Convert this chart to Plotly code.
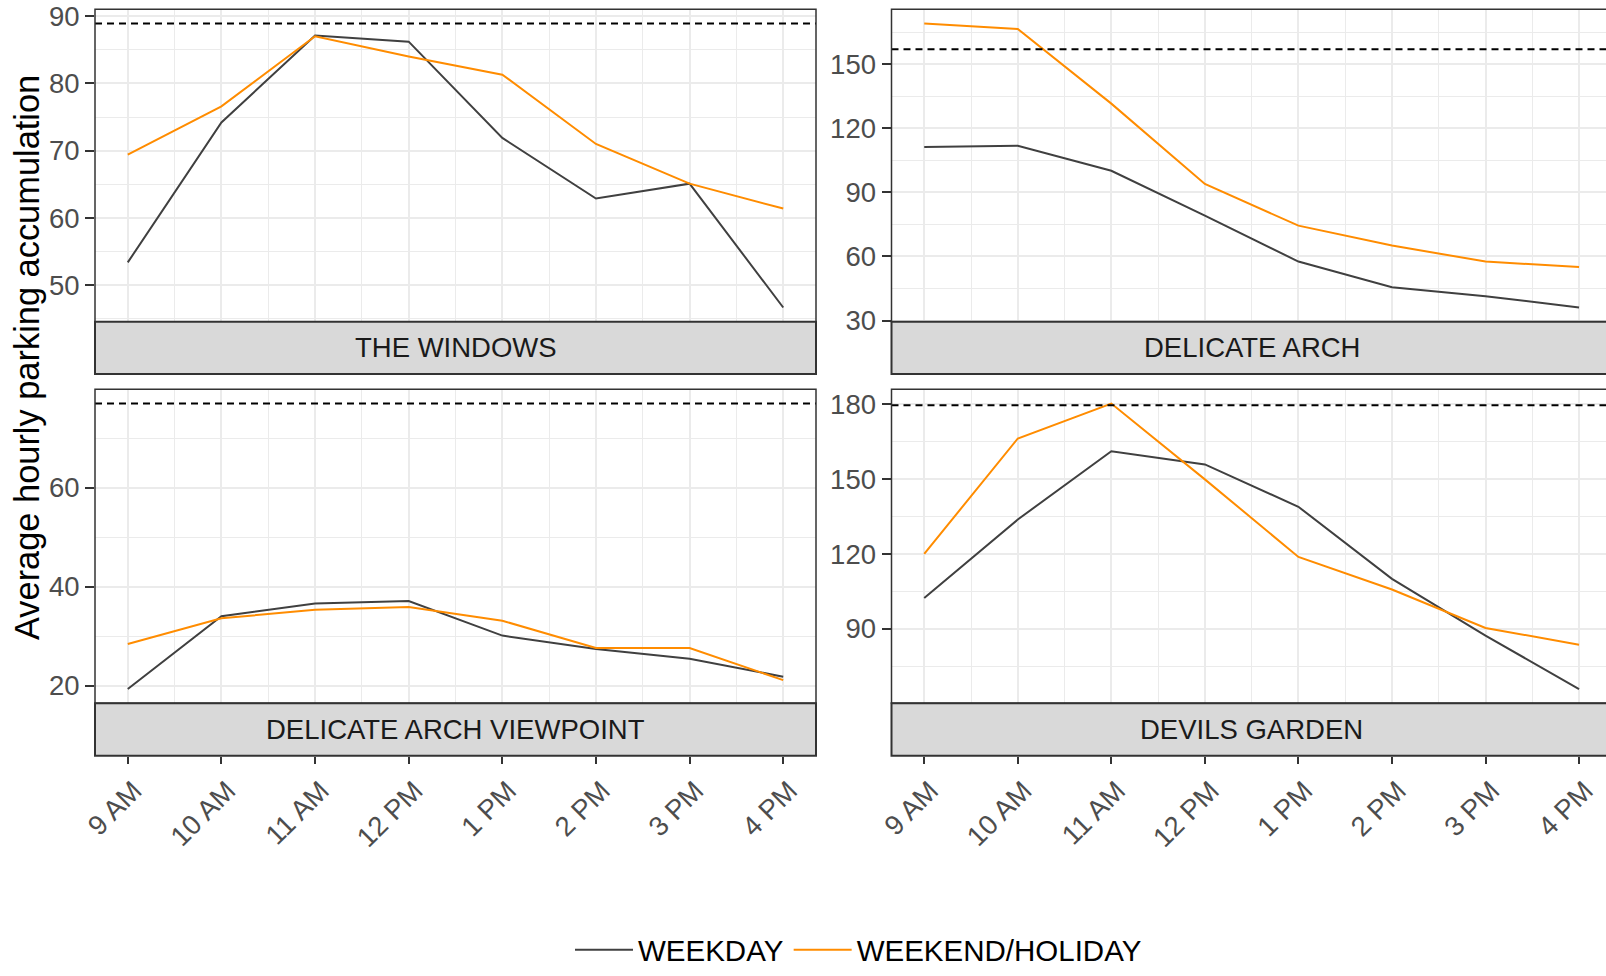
import plotly.graph_objects as go

# ---------------- data ----------------
hours = ["9 AM", "10 AM", "11 AM", "12 PM", "1 PM", "2 PM", "3 PM", "4 PM"]
sites = ["THE WINDOWS", "DELICATE ARCH", "DELICATE ARCH VIEWPOINT", "DEVILS GARDEN"]
series_names = ["WEEKDAY", "WEEKEND/HOLIDAY"]

windows_weekday = [53.4, 74.2, 87.1, 86.2, 71.9, 62.9, 65.1, 46.7]
windows_weekend = [69.4, 76.6, 87.0, 84.0, 81.3, 71.0, 65.1, 61.4]
arch_weekday = [111.2, 111.8, 100.1, 79.1, 57.6, 45.6, 41.4, 36.1]
arch_weekend = [169.0, 166.4, 131.5, 93.9, 74.4, 65.1, 57.6, 55.0]
viewpoint_weekday = [19.3, 34.0, 36.6, 37.1, 30.1, 27.4, 25.4, 21.8]
viewpoint_weekend = [28.4, 33.6, 35.3, 35.9, 33.1, 27.6, 27.6, 21.1]
devils_weekday = [102.3, 133.8, 161.2, 155.9, 138.9, 110.0, 87.2, 65.8]
devils_weekend = [120.0, 166.3, 180.3, 149.9, 118.8, 105.7, 90.3, 83.6]
capacity = [88.9, 157.0, 77.0, 179.6]
y_steps = [10, 30, 20, 30]

weekday = [windows_weekday, arch_weekday, viewpoint_weekday, devils_weekday]
weekend = [windows_weekend, arch_weekend, viewpoint_weekend, devils_weekend]

# ---------------- style ----------------
W, H = 1606, 976
FONT = "Liberation Sans, Arial, sans-serif"
GRID = "#EBEBEB"
BORDER = "#333333"
TICKTXT = "#4D4D4D"
COL_WD = "#404040"
COL_WE = "#FF8C00"
FS = 27.5


def px_x(v):
    return v / W


def px_y(v):
    return 1 - v / H


left_dom = [px_x(95), px_x(816)]
right_dom = [px_x(891.5), 1.0]
top_dom = [px_y(321.7), px_y(9.3)]
bot_dom = [px_y(703.3), px_y(389.3)]
top_strip = [px_y(374), px_y(321.7)]
bot_strip = [px_y(755.7), px_y(703.3)]

xi = list(range(len(hours)))
x_left_range = [-0.35, len(hours) - 1 + 0.35]
# right column is cut at the image edge
unit_right = (1611.8 - 891.5) / (len(hours) - 1 + 0.7)
x_right_range = [-0.35, len(hours) - 1 + 0.35 - (1611.8 - W) / unit_right]

panels = [
    dict(xd=left_dom, yd=top_dom, sd=top_strip, xr=x_left_range, bottom=False),
    dict(xd=right_dom, yd=top_dom, sd=top_strip, xr=x_right_range, bottom=False),
    dict(xd=left_dom, yd=bot_dom, sd=bot_strip, xr=x_left_range, bottom=True),
    dict(xd=right_dom, yd=bot_dom, sd=bot_strip, xr=x_right_range, bottom=True),
]

fig = go.Figure()
shapes = []
annotations = []
layout_axes = {}

for i, p in enumerate(panels):
    n = i + 1
    xa = "x" if n == 1 else f"x{n}"
    ya = "y" if n == 1 else f"y{n}"
    # traces
    for vals, name, col in [(weekday[i], series_names[0], COL_WD), (weekend[i], series_names[1], COL_WE)]:
        fig.add_trace(go.Scatter(
            x=xi, y=vals, mode="lines", name=name, legendgroup=name,
            showlegend=(i == 0), line=dict(color=col, width=2),
            xaxis=xa, yaxis=ya, hoverinfo="skip"))
    # y range (ggplot-style 5% expansion incl. capacity line)
    allv = weekday[i] + weekend[i] + [capacity[i]]
    lo, hi = min(allv), max(allv)
    pad = 0.05 * (hi - lo)
    yr = [lo - pad, hi + pad]

    xcfg = dict(
        domain=p["xd"], range=p["xr"], tickmode="array", tickvals=xi, ticktext=hours,
        showgrid=True, gridcolor=GRID, gridwidth=1.8, zeroline=False, showline=False,
        minor=dict(tickmode="linear", tick0=0, dtick=0.5, showgrid=True,
                   gridcolor=GRID, gridwidth=0.9, ticks=""),
        fixedrange=True, automargin=False,
    )
    if p["bottom"]:
        xcfg.update(anchor="free", position=p["sd"][0], ticks="outside", ticklen=7,
                    tickwidth=1.5, tickcolor=BORDER, tickangle=-45, ticklabelshift=6,
                    tickfont=dict(family=FONT, size=FS, color=TICKTXT))
    else:
        xcfg.update(anchor=ya, showticklabels=False, ticks="")
    ycfg = dict(
        domain=p["yd"], range=yr, anchor=xa, tickmode="linear", tick0=0, dtick=y_steps[i],
        ticks="outside", ticklen=9, tickwidth=1.5, tickcolor=BORDER,
        tickfont=dict(family=FONT, size=FS, color=TICKTXT),
        showgrid=True, gridcolor=GRID, gridwidth=1.8, zeroline=False, showline=False,
        minor=dict(tickmode="linear", tick0=0, dtick=y_steps[i] / 2, showgrid=True,
                   gridcolor=GRID, gridwidth=0.9, ticks=""),
        fixedrange=True, automargin=False,
    )
    layout_axes["xaxis" if n == 1 else f"xaxis{n}"] = xcfg
    layout_axes["yaxis" if n == 1 else f"yaxis{n}"] = ycfg

    x1 = 1 if not (i % 2) else 1.05
    # capacity dashed line
    shapes.append(dict(type="line", xref=f"{xa} domain", yref=ya, x0=0, x1=1,
                       y0=capacity[i], y1=capacity[i],
                       line=dict(color="black", width=2, dash="7px,5px"), layer="above"))
    # panel border
    shapes.append(dict(type="rect", xref=f"{xa} domain", yref=f"{ya} domain",
                       x0=0, x1=x1, y0=0, y1=1,
                       line=dict(color=BORDER, width=1.5), fillcolor="rgba(0,0,0,0)", layer="above"))
    # strip
    shapes.append(dict(type="rect", xref=f"{xa} domain", yref="paper",
                       x0=0, x1=x1, y0=p["sd"][0], y1=p["sd"][1],
                       line=dict(color=BORDER, width=2), fillcolor="#D9D9D9", layer="above"))
    annotations.append(dict(text=sites[i], xref=xa, yref="paper",
                            x=(x_left_range[0] + x_left_range[1]) / 2,
                            y=(p["sd"][0] + p["sd"][1]) / 2, xanchor="center", yanchor="middle",
                            showarrow=False, font=dict(family=FONT, size=FS, color="#1A1A1A")))

annotations.append(dict(text="Average hourly parking accumulation", xref="paper", yref="paper",
                        x=px_x(27), y=px_y(358), textangle=-90, xanchor="center", yanchor="middle",
                        showarrow=False, font=dict(family=FONT, size=34.4, color="black")))

fig.update_layout(
    width=W, height=H,
    margin=dict(l=0, r=0, t=0, b=0),
    paper_bgcolor="white", plot_bgcolor="white",
    font=dict(family=FONT, size=FS, color="black"),
    shapes=shapes, annotations=annotations,
    legend=dict(orientation="h", x=px_x(570), y=0, xanchor="left", yanchor="bottom",
                font=dict(family=FONT, size=29.5, color="black"), bgcolor="rgba(0,0,0,0)",
                itemwidth=58),
    **layout_axes,
)

fig.write_html("out.html", config={"displayModeBar": False},
               post_script="document.body.style.margin='0px';document.body.style.overflow='hidden';")
